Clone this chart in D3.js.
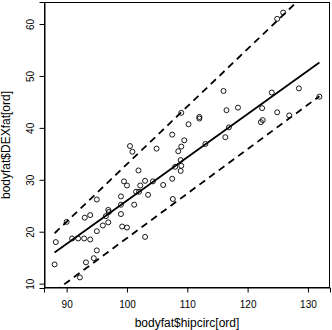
<!DOCTYPE html>
<html>
<head>
<meta charset="utf-8">
<script src="https://cdn.jsdelivr.net/npm/d3@7"></script>
<style>
  body { margin: 0; background: #fff; }
  svg { display: block; font-family: "Liberation Sans", Arial, sans-serif; }
</style>
</head>
<body>
<div id="chart"></div>
<script>
// hip circumference (x) and DEXA body fat (y)
var hipcirc = [88.0, 88.2, 90.0, 90.9, 91.9, 92.9, 93.9, 93.0, 93.9, 95.0,
               95.0, 95.0, 94.5, 93.2, 92.2, 96.0, 96.5, 96.9, 97.0, 96.9,
               99.0, 99.0, 99.0, 99.2, 100.0, 99.5, 100.0, 101.2, 101.5, 102.0,
               102.2, 101.9, 103.0, 104.3, 103.5, 103.0, 106.0, 100.5, 100.9, 104.9,
               107.5, 107.6, 108.0, 109.0, 108.9, 108.9, 108.5, 109.0, 109.5, 107.5,
               109.0, 110.2, 112.0, 112.0, 113.0, 116.0, 116.5, 118.4, 116.9, 116.3,
               122.4, 122.2, 122.5, 124.0, 124.9, 126.9, 128.5, 131.9, 124.9, 125.9];
var dexfat  = [13.7, 18.0, 21.9, 18.7, 18.7, 18.7, 18.5, 22.7, 23.2, 26.2,
               20.1, 16.4, 14.9, 14.1, 11.2, 21.2, 23.0, 24.2, 23.8, 21.8,
               26.8, 25.2, 23.4, 21.0, 20.8, 29.7, 28.9, 25.2, 27.7, 27.7,
               28.9, 31.8, 29.8, 29.7, 27.1, 19.0, 29.0, 36.5, 35.4, 36.0,
               30.2, 26.3, 32.5, 32.7, 31.7, 33.8, 35.5, 36.4, 37.6, 38.7,
               42.9, 40.7, 42.1, 41.8, 36.9, 47.1, 43.4, 43.9, 40.1, 38.2,
               43.8, 41.1, 41.5, 46.8, 43.0, 42.4, 47.6, 46.0, 61.0, 62.2];

// fitted lines at the ends of the ordered x range
var lineX   = [88.0, 131.9];
var median  = [16.0, 52.6];
var lower   = [8.5, 46.1];
var upper   = [19.7, 68.4];

var xTicks = [90, 100, 110, 120, 130];
var yTicks = [10, 20, 30, 40, 50, 60];

var width = 332, height = 330;
var margin = { left: 44, top: 2, right: 2, bottom: 42 };
var pw = width - margin.left - margin.right,
    ph = height - margin.top - margin.bottom;

// R style range: data extent padded by 4% on each side
function rangeR(v) {
    var e = d3.extent(v), d = (e[1] - e[0]) * 0.04;
    return [e[0] - d, e[1] + d];
}

var x = d3.scaleLinear().domain(rangeR(hipcirc)).range([0, pw]);
var y = d3.scaleLinear().domain(rangeR(dexfat)).range([ph, 0]);

var svg = d3.select('#chart').append('svg')
    .attr('width', width)
    .attr('height', height);

svg.append('defs').append('clipPath').attr('id', 'clip')
    .append('rect').attr('width', pw).attr('height', ph);

var g = svg.append('g')
    .attr('transform', 'translate(' + margin.left + ',' + margin.top + ')');

var plot = g.append('g').attr('clip-path', 'url(#clip)');

var pts = hipcirc.map(function (d, i) { return { x: d, y: dexfat[i] }; });

plot.selectAll('circle')
    .data(pts)
    .enter().append('circle')
    .attr('cx', function (d) { return x(d.x); })
    .attr('cy', function (d) { return y(d.y); })
    .attr('r', 2.5)
    .attr('fill', 'none')
    .attr('stroke', '#000')
    .attr('stroke-width', 0.9);

var line = d3.line()
    .x(function (d) { return x(d[0]); })
    .y(function (d) { return y(d[1]); });

[[upper, '7,5'], [median, null], [lower, '7,5']].forEach(function (s) {
    plot.append('path')
        .datum(lineX.map(function (v, i) { return [v, s[0][i]]; }))
        .attr('d', line)
        .attr('fill', 'none')
        .attr('stroke', '#000')
        .attr('stroke-width', 1.8)
        .attr('stroke-dasharray', s[1]);
});

// box
g.append('rect')
    .attr('x', 0.5).attr('y', 0.5)
    .attr('width', pw - 1).attr('height', ph - 1)
    .attr('fill', 'none')
    .attr('stroke', '#000');

var xAxis = g.append('g')
    .attr('transform', 'translate(0,' + (ph - 0.5) + ')')
    .call(d3.axisBottom(x).tickValues(xTicks).tickSize(5).tickPadding(5).tickFormat(d3.format('d')));

var yAxis = g.append('g')
    .attr('transform', 'translate(0.5,0)')
    .call(d3.axisLeft(y).tickValues(yTicks).tickSize(5).tickFormat(d3.format('d')));

[xAxis, yAxis].forEach(function (a) {
    a.select('.domain').attr('stroke', '#000');
    a.selectAll('.tick line').attr('stroke', '#000');
    a.selectAll('text').attr('fill', '#000').style('font-size', '10px');
});

xAxis.selectAll('text').attr('dy', '1.05em');

yAxis.selectAll('.tick text')
    .attr('x', null).attr('dy', null)
    .attr('text-anchor', 'middle')
    .attr('transform', 'translate(-10.5,0) rotate(-90)');

svg.append('text')
    .attr('x', margin.left + pw / 2)
    .attr('y', 326.5)
    .attr('text-anchor', 'middle')
    .style('font-size', '12px')
    .text('bodyfat$hipcirc[ord]');

svg.append('text')
    .attr('transform', 'translate(9.5,' + (margin.top + ph / 2) + ') rotate(-90)')
    .attr('text-anchor', 'middle')
    .style('font-size', '12px')
    .text('bodyfat$DEXfat[ord]');
</script>
</body>
</html>
